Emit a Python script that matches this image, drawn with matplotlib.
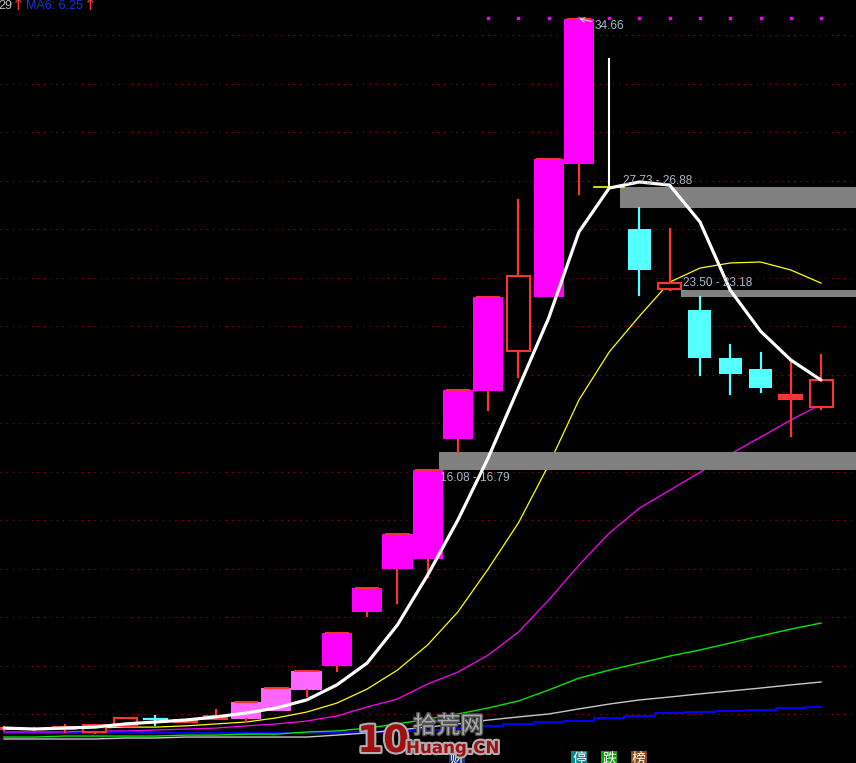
import matplotlib
matplotlib.use("Agg")
import matplotlib.pyplot as plt
from matplotlib.patches import Rectangle
import matplotlib.patheffects as pe

# ---- candle data (price units), index 0..27 ----
opens  = [5.40, 5.38, 5.40, 5.25, 5.50, 5.78, 5.67, 5.79, 5.79, 6.13, 6.99, 7.98, 10.21, 11.98,
          12.39, 17.34, 19.32, 20.97, 23.20, 28.70, 27.73, 26.00, 23.53, 22.66, 20.68, 20.23, 19.00, 18.66]
closes = [5.42, 5.40, 5.48, 5.55, 5.83, 5.78, 5.75, 5.92, 6.50, 7.07, 7.77, 9.34, 11.19, 13.42,
          16.08, 19.36, 23.20, 24.06, 28.89, 34.66, 27.73, 24.31, 23.77, 20.68, 20.02, 19.44, 19.16, 19.77]
highs  = [5.45, 5.44, 5.55, 5.55, 5.83, 5.90, 5.75, 6.17, 6.50, 7.07, 7.77, 9.34, 11.19, 13.42,
          16.08, 19.36, 23.20, 27.20, 28.89, 34.66, 33.01, 26.88, 26.00, 23.18, 21.22, 20.89, 20.52, 20.80]
lows   = [5.35, 5.33, 5.25, 5.22, 5.50, 5.55, 5.67, 5.79, 5.67, 6.13, 6.74, 7.77, 10.03, 10.58,
          11.65, 16.79, 18.54, 19.90, 23.20, 27.44, 27.73, 23.28, 23.50, 19.98, 19.20, 19.28, 17.46, 18.58]
kinds  = ["up"] * 5 + ["down", "up", "up"] + ["limit_lt"] * 3 + ["limit"] * 6 + ["up", "limit", "limit",
          "flat", "down", "up", "down", "down", "down", "up", "up"]

# ---- moving averages ----
ma_white  = [5.42, 5.38, 5.42, 5.46, 5.59, 5.67, 5.75, 5.88, 6.04, 6.25, 6.58, 7.20, 8.10, 9.67,
             11.73, 14.00, 16.56, 19.44, 22.33, 25.88, 27.69, 27.94, 27.81, 26.29, 23.48, 21.79, 20.60, 19.77]
ma_yellow = [5.38, 5.38, 5.42, 5.42, 5.46, 5.46, 5.51, 5.59, 5.67, 5.84, 6.08, 6.45, 7.03, 7.81,
             8.85, 10.21, 11.98, 13.88, 16.27, 18.95, 20.93, 22.41, 23.81, 24.39, 24.60, 24.64, 24.31, 23.77]
ma_magenta = [5.26, 5.26, 5.26, 5.30, 5.30, 5.34, 5.38, 5.42, 5.51, 5.59, 5.71, 5.92, 6.29, 6.62,
              7.24, 7.73, 8.43, 9.38, 10.70, 12.14, 13.46, 14.49, 15.23, 15.97, 16.72, 17.42, 18.12, 18.78]
ma_green  = [5.05, 5.05, 5.09, 5.09, 5.09, 5.09, 5.13, 5.13, 5.17, 5.17, 5.26, 5.30, 5.42, 5.59,
             5.79, 6.00, 6.25, 6.54, 6.99, 7.48, 7.81, 8.10, 8.39, 8.64, 8.93, 9.22, 9.50, 9.75]
ma_gray   = [4.97, 4.97, 4.97, 4.97, 5.01, 5.01, 5.05, 5.05, 5.05, 5.05, 5.05, 5.13, 5.22, 5.34,
             5.46, 5.59, 5.75, 5.88, 6.00, 6.21, 6.41, 6.58, 6.70, 6.83, 6.95, 7.07, 7.20, 7.32]
ma_blue   = [5.22, 5.22, 5.22, 5.22, 5.22, 5.22, 5.22, 5.22, 5.22, 5.22, 5.22, 5.22, 5.26, 5.30,
             5.34, 5.42, 5.51, 5.59, 5.65, 5.71, 5.84, 5.92, 6.04, 6.08, 6.12, 6.17, 6.25, 6.29]

# gaps: (index of candle before the gap, lower, upper, label)
gap_idx   = [20, 22, 14]
gap_lo    = [26.88, 23.18, 16.08]
gap_hi    = [27.73, 23.50, 16.79]
gap_text  = ["27.73 - 26.88", "23.50 - 23.18", "16.08 - 16.79"]
gap_below = [False, False, True]

grid_levels = list(range(6, 35, 2))
marker_idx = list(range(16, 28))

RED = "#ff3232"
CYAN = "#54ffff"
LABEL = "#aabbcc"

W, H = 856, 763
fig = plt.figure(figsize=(W / 100, H / 100), dpi=100, facecolor="black")
ax = fig.add_axes([0, 0, 1, 1])
ax.set_facecolor("black")
# pixel calibration: x = 4 + 30.26*i ; y = 19 + (34.66 - p)*24.25
ax.set_xlim(-4 / 30.26, (W - 4) / 30.26)
ax.set_ylim(34.66 - (H - 19) / 24.25, 34.66 + 19 / 24.25)
ax.axis("off")

for g in grid_levels:
    ax.axhline(g, color="#b40000", lw=0.75, ls=(0, (1, 5)), zorder=1)

x = list(range(len(opens)))
ax.plot(x, ma_blue, color="#0000ff", lw=1.4, drawstyle="steps-mid", zorder=2)
ax.plot(x, ma_gray, color="#c8c8c8", lw=1.0, zorder=2)
ax.plot(x, ma_green, color="#00e600", lw=1.0, zorder=2)
ax.plot(x, ma_magenta, color="#ff00ff", lw=0.9, zorder=2)
ax.plot(x, ma_yellow, color="#ffff00", lw=0.9, zorder=2)

xr = (W - 4) / 30.26
for gi, lo, hi, txt, below in zip(gap_idx, gap_lo, gap_hi, gap_text, gap_below):
    x0 = gi + 0.37
    ax.add_patch(Rectangle((x0, lo), xr - x0, hi - lo, color="#808080", zorder=3, lw=0))
    if below:
        ax.text(x0 + 0.05, lo - 0.08, txt, color=LABEL, fontsize=8.5, family="Liberation Sans",
                ha="left", va="top", zorder=6)
    else:
        ax.text(x0 + 0.07, hi + 0.02, txt, color=LABEL, fontsize=8.5, family="Liberation Sans",
                ha="left", va="bottom", zorder=6)

bw = 0.38
for i, (o, c, h, l, k) in enumerate(zip(opens, closes, highs, lows, kinds)):
    lo_b, hi_b = min(o, c), max(o, c)
    if k in ("limit", "limit_lt"):
        col = "#ff00ff" if k == "limit" else "#ff66ff"
        ax.add_patch(Rectangle((i - 0.5, lo_b), 1.0, hi_b - lo_b, color=col, lw=0, zorder=4))
        ax.plot([i - 0.37, i + 0.37], [hi_b, hi_b], color=RED, lw=1.4, zorder=4)
        if l < lo_b:
            ax.plot([i, i], [l, lo_b], color=RED, lw=1.6, zorder=4)
    elif k == "flat":
        ax.plot([i, i], [l, h], color="white", lw=1.5, zorder=4)
        ax.plot([i - 0.5, i + 0.5], [o, o], color="#ffff00", lw=1.2, zorder=4)
    elif k == "up":
        ax.plot([i, i], [hi_b, h], color=RED, lw=1.6, zorder=4)
        ax.plot([i, i], [l, lo_b], color=RED, lw=1.6, zorder=4)
        ax.add_patch(Rectangle((i - bw, lo_b), 2 * bw, hi_b - lo_b,
                               facecolor="black" if hi_b - lo_b > 0.2 else RED,
                               edgecolor=RED, lw=1.5, zorder=4))
    else:
        ax.plot([i, i], [l, h], color=CYAN, lw=1.6, zorder=4)
        if hi_b - lo_b < 0.05:
            ax.plot([i - bw, i + bw], [o, o], color=CYAN, lw=1.6, zorder=4)
        else:
            ax.add_patch(Rectangle((i - bw, lo_b), 2 * bw, hi_b - lo_b, color=CYAN, lw=0, zorder=4))

ax.plot(x, ma_white, color="white", lw=2.3, zorder=5, solid_capstyle="round", solid_joinstyle="round")

# markers along the top
ax.scatter(marker_idx, [34.66 + 1 / 24.25] * len(marker_idx), s=4, marker="s", color="#ff00ff", zorder=6)

# peak annotation
ax.annotate("34.66", xy=(19.0, 34.66 + 0.02), xytext=(19.5, 34.66 - 0.28), color=LABEL, fontsize=8.5,
            family="Liberation Sans", va="center", ha="left", zorder=7,
            arrowprops=dict(arrowstyle="->", color="#d0d0e0", lw=0.8, shrinkA=0, shrinkB=0))

# title row
fig.text(-2 / W, 1 - 6 / H, "29", color="#c0c0c0", fontsize=9, family="Liberation Sans", va="center", ha="left")
fig.text(12 / W, 1 - 6 / H, "↑", color=RED, fontsize=11, family="DejaVu Sans", va="center", ha="left")
fig.text(26 / W, 1 - 6 / H, "MA6: 6.25", color="#1432f0", fontsize=9, family="Liberation Sans",
         va="center", ha="left")
fig.text(84 / W, 1 - 6 / H, "↑", color=RED, fontsize=11, family="DejaVu Sans", va="center", ha="left")

# bottom icons (partly cut off)
cjk = ["Noto Sans CJK SC", "DejaVu Sans"]
for px, ch, bg in [(457, "财", "#1a3c78"), (579, "停", "#008b8b"), (609, "跌", "#12a012"), (639, "榜", "#8b4a10")]:
    fig.text(px / W, 1 - 752 / H, ch, color="white", fontsize=10, family=cjk, ha="center", va="top",
             bbox=dict(boxstyle="square,pad=0.1", fc=bg, ec="none"))

# watermark
outline = [pe.withStroke(linewidth=3, foreground="#b0b0b0")]
fig.text(357 / W, 1 - 752 / H, "10", color="#a01010", fontsize=27, fontweight="bold", family="DejaVu Sans",
         ha="left", va="baseline", path_effects=outline)
fig.text(413 / W, 1 - 733 / H, "拾荒网", color="#a8a8a8", fontsize=17, family=cjk, ha="left", va="baseline",
         path_effects=[pe.withStroke(linewidth=2, foreground="#505050")])
fig.text(406 / W, 1 - 753 / H, "Huang.CN", color="#a01010", fontsize=12, fontweight="bold",
         family="DejaVu Sans", ha="left", va="baseline", path_effects=outline)

fig.savefig("out.png", dpi=100, facecolor="black")
